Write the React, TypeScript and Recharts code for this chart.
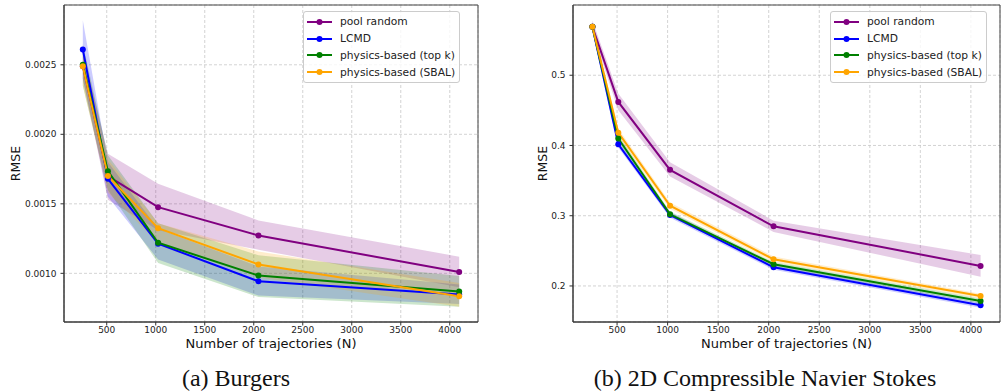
import React from "react"
import { Area, CartesianGrid, ComposedChart, Line, ReferenceArea, XAxis, YAxis } from "recharts"

// number of trajectories (x) for both panels
const trajectories = [256, 512, 1024, 2048, 4096]
const xTicks = [500, 1000, 1500, 2000, 2500, 3000, 3500, 4000]

// (a) Burgers
const burgersPool = [0.00249, 0.00170, 0.001476, 0.001272, 0.00101]
const burgersPoolBand = [[0.00240, 0.00260], [0.00153, 0.00186], [0.00131, 0.001645], [0.00117, 0.00138], [0.00090, 0.00112]]
const burgersLcmd = [0.00261, 0.00168, 0.001213, 0.000943, 0.000847]
const burgersLcmdBand = [[0.00240, 0.00282], [0.00155, 0.00180], [0.00110, 0.00132], [0.00084, 0.00105], [0.00078, 0.00092]]
const burgersTopK = [0.00250, 0.001735, 0.00122, 0.000984, 0.000869]
const burgersTopKBand = [[0.00235, 0.00265], [0.00160, 0.00185], [0.001075, 0.00136], [0.00083, 0.00113], [0.00076, 0.00098]]
const burgersSbal = [0.00249, 0.00170, 0.001325, 0.001064, 0.000835]
const burgersSbalBand = [[0.00235, 0.00262], [0.00158, 0.00182], [0.00122, 0.00136], [0.00097, 0.001157], [0.00076, 0.00093]]
const burgersYTicks = [0.0010, 0.0015, 0.0020, 0.0025]

// (b) 2D Compressible Navier Stokes
const cnsPool = [0.569, 0.462, 0.3653, 0.2849, 0.2285]
const cnsPoolBand = [[0.562, 0.578], [0.450, 0.474], [0.356, 0.376], [0.277, 0.293], [0.213, 0.244]]
const cnsLcmd = [0.569, 0.4018, 0.301, 0.2266, 0.1725]
const cnsLcmdBand = [[0.563, 0.574], [0.397, 0.407], [0.297, 0.305], [0.223, 0.230], [0.169, 0.176]]
const cnsTopK = [0.569, 0.410, 0.302, 0.2309, 0.1786]
const cnsTopKBand = [[0.563, 0.574], [0.405, 0.415], [0.299, 0.306], [0.227, 0.234], [0.175, 0.182]]
const cnsSbal = [0.569, 0.4183, 0.3142, 0.238, 0.1858]
const cnsSbalBand = [[0.563, 0.575], [0.412, 0.424], [0.310, 0.319], [0.234, 0.242], [0.182, 0.189]]
const cnsYTicks = [0.2, 0.3, 0.4, 0.5]

const seriesNames = ["pool random", "LCMD", "physics-based (top k)", "physics-based (SBAL)"]
const seriesColors = ["#800080", "#0000ff", "#008000", "#ffa500"]
const keys = ["pool", "lcmd", "topk", "sbal"]

const tickFont = { fontFamily: "DejaVu Sans", fontSize: 9, fill: "#222" }
const titleFont = "DejaVu Sans"

function buildRows(series: number[][], bands: number[][][]) {
  return trajectories.map((n, i) => {
    const row: any = { n }
    keys.forEach((k, s) => {
      row[k] = series[s][i]
      row[k + "Band"] = bands[s][i]
    })
    return row
  })
}

const burgersRows = buildRows(
  [burgersPool, burgersLcmd, burgersTopK, burgersSbal],
  [burgersPoolBand, burgersLcmdBand, burgersTopKBand, burgersSbalBand]
)
const cnsRows = buildRows(
  [cnsPool, cnsLcmd, cnsTopK, cnsSbal],
  [cnsPoolBand, cnsLcmdBand, cnsTopKBand, cnsSbalBand]
)

function LegendBox({ left }: { left: number }) {
  return (
    <div style={{ position: "absolute", left, top: 11, whiteSpace: "nowrap", border: "1px solid #ccc", borderRadius: 3, background: "rgba(255,255,255,0.8)", padding: "1.5px 4px 1.5px 3px", fontFamily: titleFont, fontSize: 10.7, color: "#222" }}>
      {seriesNames.map((name, i) => (
        <div key={name} style={{ display: "flex", alignItems: "center", height: 16.8 }}>
          <svg width={25} height={10} style={{ marginRight: 8, flex: "none" }}>
            <line x1={0} y1={5} x2={25} y2={5} stroke={seriesColors[i]} strokeWidth={2} />
            <circle cx={12.5} cy={5} r={3} fill={seriesColors[i]} />
          </svg>
          <span>{name}</span>
        </div>
      ))}
    </div>
  )
}

function Panel({ rows, yDomain, yTicks, digits, yWidth, width, titleX }: any) {
  return (
    <ComposedChart width={width} height={392} data={rows} margin={{ top: 5, right: 2, left: 0, bottom: 52 }}>
      <CartesianGrid stroke="#c8c8c8" strokeDasharray="3 2" strokeWidth={0.8} />
      <XAxis
        dataKey="n"
        type="number"
        domain={[64, 4288]}
        ticks={xTicks}
        height={18}
        tickSize={3.5}
        tickMargin={1}
        tick={tickFont}
        stroke="#333"
        label={{ value: "Number of trajectories (N)", position: "bottom", offset: -1, style: { fontFamily: titleFont, fontSize: 13, fill: "#111" } }}
      />
      <YAxis
        type="number"
        domain={yDomain}
        ticks={yTicks}
        width={yWidth}
        tickSize={3.5}
        tickMargin={4}
        tick={tickFont}
        stroke="#333"
        tickFormatter={(v: number) => v.toFixed(digits)}
        label={({ viewBox }: any) => (
          <text
            x={viewBox.x + titleX}
            y={viewBox.y + viewBox.height / 2}
            transform={`rotate(-90, ${viewBox.x + titleX}, ${viewBox.y + viewBox.height / 2})`}
            textAnchor="middle"
            dominantBaseline="central"
            style={{ fontFamily: titleFont, fontSize: 12.5, fill: "#111" }}
          >
            RMSE
          </text>
        )}
      />
      {keys.map((k, i) => (
        <Area key={k + "Band"} dataKey={k + "Band"} type="linear" stroke="none" fill={seriesColors[i]} fillOpacity={0.2} isAnimationActive={false} legendType="none" />
      ))}
      {keys.map((k, i) => (
        <Line key={k} dataKey={k} type="linear" stroke={seriesColors[i]} strokeWidth={2} dot={{ r: 3, fill: seriesColors[i], stroke: seriesColors[i], strokeWidth: 0 }} activeDot={false} isAnimationActive={false} />
      ))}
      <ReferenceArea x1={64} x2={4288} y1={yDomain[0]} y2={yDomain[1]} fill="none" stroke="#444" strokeWidth={1} ifOverflow="visible" />
    </ComposedChart>
  )
}

const captionStyle: React.CSSProperties = {
  position: "absolute",
  top: 366,
  fontFamily: "Liberation Serif",
  fontSize: 24,
  lineHeight: "24px",
  color: "#111",
  textAlign: "center",
  width: 400,
}

export default function App() {
  return (
    <div style={{ position: "absolute", left: 0, top: 0, width: 1002, height: 392, background: "#fff", overflow: "hidden" }}>
      <div style={{ position: "absolute", left: 0, top: 0 }}>
        <Panel rows={burgersRows} yDomain={[0.00065, 0.00293]} yTicks={burgersYTicks} digits={4} yWidth={64} width={480} titleX={15} />
      </div>
      <div style={{ position: "absolute", left: 500, top: 0 }}>
        <Panel rows={cnsRows} yDomain={[0.1487, 0.6]} yTicks={cnsYTicks} digits={1} yWidth={73} width={502} titleX={42} />
      </div>
      <LegendBox left={303} />
      <LegendBox left={830} />
      <div style={{ ...captionStyle, left: 36 }}>(a) Burgers</div>
      <div style={{ ...captionStyle, left: 565 }}>(b) 2D Compressible Navier Stokes</div>
    </div>
  )
}
